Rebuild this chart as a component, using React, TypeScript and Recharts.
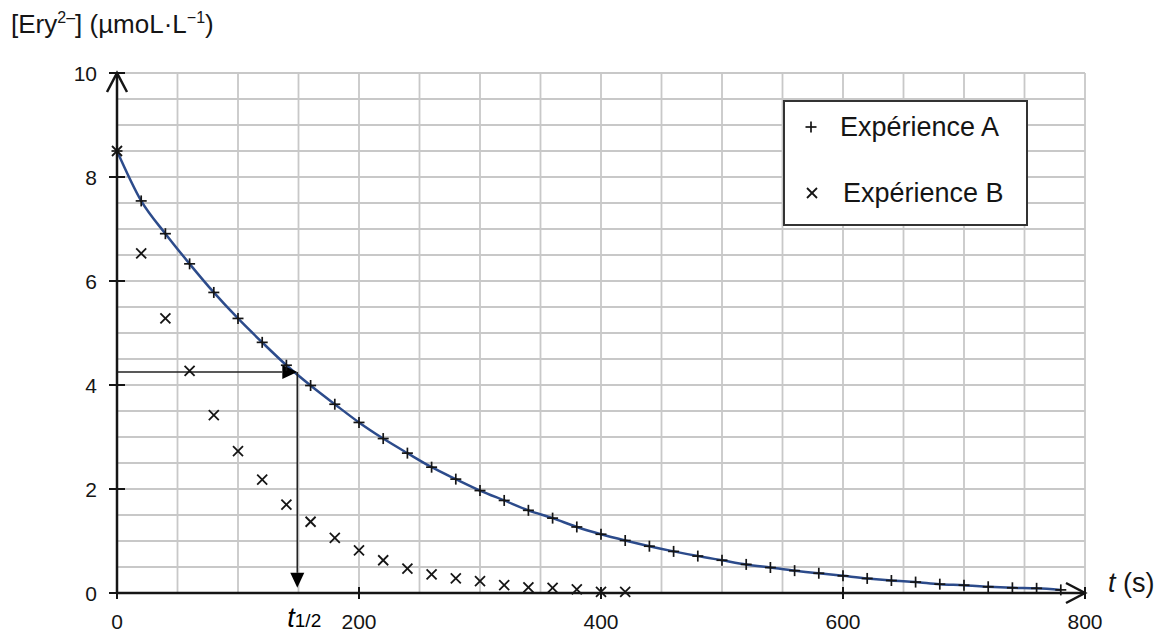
import { ComposedChart, Line, Scatter, XAxis, YAxis, CartesianGrid, Legend, ReferenceLine, ReferenceDot } from "recharts"

// Readings taken every 20 s
const timesA = [0, 20, 40, 60, 80, 100, 120, 140, 160, 180, 200, 220, 240, 260, 280, 300, 320, 340, 360, 380,
  400, 420, 440, 460, 480, 500, 520, 540, 560, 580, 600, 620, 640, 660, 680, 700, 720, 740, 760, 780]
const concA = [8.5, 7.54, 6.91, 6.33, 5.78, 5.28, 4.82, 4.38, 3.99, 3.63, 3.28, 2.97, 2.69, 2.42, 2.19, 1.97, 1.78, 1.59, 1.44, 1.27,
  1.13, 1.01, 0.9, 0.8, 0.71, 0.63, 0.55, 0.49, 0.43, 0.38, 0.33, 0.28, 0.24, 0.21, 0.17, 0.15, 0.12, 0.1, 0.09, 0.06]

const timesB = [0, 20, 40, 60, 80, 100, 120, 140, 160, 180, 200, 220, 240, 260, 280, 300, 320, 340, 360, 380, 400, 420]
const concB = [8.5, 6.53, 5.28, 4.27, 3.42, 2.73, 2.18, 1.7, 1.37, 1.06, 0.82, 0.63, 0.47, 0.36, 0.28, 0.23, 0.15, 0.11, 0.1, 0.07, 0.02, 0.02]

const xTicks = [0, 200, 400, 600, 800]
const yTicks = [0, 2, 4, 6, 8, 10]
const gridX = [0, 50, 100, 150, 200, 250, 300, 350, 400, 450, 500, 550, 600, 650, 700, 750, 800]
const gridY = [0, 0.5, 1, 1.5, 2, 2.5, 3, 3.5, 4, 4.5, 5, 5.5, 6, 6.5, 7, 7.5, 8, 8.5, 9, 9.5, 10]

// half-life construction
const halfTime = 149
const halfConc = 4.25

const rowsA = timesA.map((t, i) => ({ t, v: concA[i] }))
const rowsB = timesB.map((t, i) => ({ t, v: concB[i] }))

const FONT = '"Liberation Sans", Arial, sans-serif'
const INK = "#151515"

const PlusMark = (p: any) => (
  <g stroke={INK} strokeWidth={1.7}>
    <line x1={p.cx - 5.5} x2={p.cx + 5.5} y1={p.cy} y2={p.cy} />
    <line x1={p.cx} x2={p.cx} y1={p.cy - 5.5} y2={p.cy + 5.5} />
  </g>
)

const CrossMark = (p: any) => (
  <g stroke={INK} strokeWidth={1.8}>
    <line x1={p.cx - 5} x2={p.cx + 5} y1={p.cy - 5} y2={p.cy + 5} />
    <line x1={p.cx - 5} x2={p.cx + 5} y1={p.cy + 5} y2={p.cy - 5} />
  </g>
)

const YTick = ({ x, y, payload }: any) => (
  <g>
    <line x1={x - 8} x2={x + 8} y1={y} y2={y} stroke={INK} strokeWidth={2} />
    <text x={x - 20} y={y} textAnchor="end" dominantBaseline="central" fontSize={21} fontFamily={FONT} fill={INK}>
      {payload.value}
    </text>
  </g>
)

const XTick = ({ x, y, payload }: any) => (
  <g>
    <line x1={x} x2={x} y1={y - 6} y2={y + 6} stroke={INK} strokeWidth={2} />
    <text x={x} y={y + 36} textAnchor="middle" fontSize={21} fontFamily={FONT} fill={INK}>
      {payload.value}
    </text>
  </g>
)

// line with a filled triangular head at its end
const ArrowSegment = (props: any) => {
  const { x1, y1, x2, y2 } = props
  const ang = Math.atan2(y2 - y1, x2 - x1)
  const len = 15
  const half = 7
  const bx = x2 - len * Math.cos(ang)
  const by = y2 - len * Math.sin(ang)
  const px = -Math.sin(ang) * half
  const py = Math.cos(ang) * half
  return (
    <g>
      <line x1={x1} y1={y1} x2={bx} y2={by} stroke="#222" strokeWidth={1.6} />
      <polygon points={`${x2},${y2} ${bx + px},${by + py} ${bx - px},${by - py}`} fill="#000" />
    </g>
  )
}

const UpArrow = ({ cx, cy }: any) => (
  <polyline points={`${cx - 10},${cy + 19} ${cx},${cy} ${cx + 10},${cy + 19}`} fill="none" stroke={INK} strokeWidth={2.5} />
)

const RightArrow = ({ cx, cy }: any) => (
  <g>
    <polyline points={`${cx - 19},${cy - 10} ${cx},${cy} ${cx - 19},${cy + 10}`} fill="none" stroke={INK} strokeWidth={2.5} />
    <text x={cx + 23} y={cy - 1} fontSize={27} fontFamily={FONT} fill={INK}>
      <tspan fontStyle="italic">t</tspan> (s)
    </text>
  </g>
)

const HalfLabel = ({ cx, cy }: any) => (
  <text x={cx - 10} y={cy + 34} fontSize={27} fontFamily={FONT} fill="#000" fontStyle="italic">
    t<tspan fontSize={19} fontStyle="normal">1/2</tspan>
  </text>
)

const LegendBox = ({ payload }: any) => {
  const items = (payload || []).filter((e: any) => e.type !== "none")
  return (
    <div
      style={{
        width: 245, height: 126, boxSizing: "border-box", border: "2px solid #333",
        background: "#fff", position: "relative", fontFamily: FONT, fontSize: 27, color: INK,
      }}
    >
      {items.map((entry: any, i: number) => (
        <div key={entry.value} style={{ position: "absolute", left: 0, top: i === 0 ? 10 : 76, height: 30, width: 240 }}>
          <svg width={16} height={16} style={{ position: "absolute", left: 18 + i, top: 7 }}>
            {i === 0 ? <PlusMark cx={8} cy={8} /> : <CrossMark cx={8} cy={8} />}
          </svg>
          <span style={{ position: "absolute", left: i === 0 ? 55 : 58, top: 0, lineHeight: "30px", whiteSpace: "nowrap" }}>
            {entry.value}
          </span>
        </div>
      ))}
    </div>
  )
}

export default function App() {
  return (
    <div style={{ position: "absolute", left: 0, top: 0, width: 1161, height: 633, background: "#fff" }}>
      <div style={{ position: "absolute", left: 11, top: 11, fontFamily: FONT, fontSize: 26, lineHeight: "26px", color: INK, whiteSpace: "nowrap" }}>
        [Ery<span style={{ fontSize: 16, position: "relative", top: -10 }}>2–</span>] (µmoL·L
        <span style={{ fontSize: 16, position: "relative", top: -10 }}>−1</span>)
      </div>
      <ComposedChart width={1161} height={633} data={rowsA} margin={{ top: 73, right: 76, bottom: 10, left: 57 }}>
        <CartesianGrid stroke="#c8c8c8" strokeWidth={1.8} horizontalValues={gridY} verticalValues={gridX} />
        <XAxis
          dataKey="t" type="number" domain={[0, 800]} ticks={xTicks} interval={0} height={30}
          tickSize={0} tickMargin={0} tickLine={false} tick={<XTick />}
          axisLine={{ stroke: INK, strokeWidth: 2.5 }}
        />
        <YAxis
          type="number" domain={[0, 10]} ticks={yTicks} interval={0} width={60}
          tickSize={0} tickMargin={0} tickLine={false} tick={<YTick />}
          axisLine={{ stroke: INK, strokeWidth: 2.5 }}
        />
        <Line dataKey="v" type="monotone" stroke="#2c4b8b" strokeWidth={2.5} dot={false} legendType="none" isAnimationActive={false} />
        <Scatter name="Expérience A" data={rowsA} dataKey="v" shape={PlusMark} isAnimationActive={false} />
        <Scatter name="Expérience B" data={rowsB} dataKey="v" shape={CrossMark} isAnimationActive={false} />
        <ReferenceLine segment={[{ x: 0, y: halfConc }, { x: halfTime, y: halfConc }]} shape={ArrowSegment} ifOverflow="visible" />
        <ReferenceLine segment={[{ x: halfTime, y: halfConc }, { x: halfTime, y: 0.1 }]} shape={ArrowSegment} ifOverflow="visible" />
        <ReferenceDot x={halfTime} y={0} shape={HalfLabel} ifOverflow="visible" />
        <ReferenceDot x={0} y={10} shape={UpArrow} ifOverflow="visible" />
        <ReferenceDot x={800} y={0} shape={RightArrow} ifOverflow="visible" />
        <Legend
          layout="horizontal" verticalAlign="middle" align="center" content={LegendBox}
          wrapperStyle={{ position: "absolute", left: 783, top: 100, width: 245, height: 126 }}
        />
      </ComposedChart>
    </div>
  )
}
